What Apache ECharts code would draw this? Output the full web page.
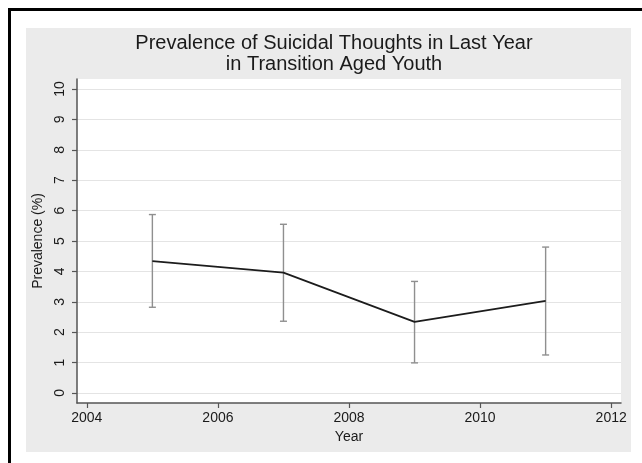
<!DOCTYPE html>
<html>
<head>
<meta charset="utf-8">
<script src="https://cdn.jsdelivr.net/npm/echarts@6/dist/echarts.min.js"></script>
<style>
  html, body { margin: 0; padding: 0; background: #fff; }
  #chart { width: 642px; height: 463px; }
</style>
</head>
<body>
<div id="chart"></div>
<script>
// Survey years and prevalence estimates (%) with 95% confidence limits
const years = [2005, 2007, 2009, 2011];
const prevalence = [4.34, 3.96, 2.34, 3.03];
const lowerCI = [2.82, 2.36, 0.99, 1.25];
const upperCI = [5.87, 5.55, 3.67, 4.80];

// Axis ticks
const xTicks = [2004, 2006, 2008, 2010, 2012];
const yTicks = [0, 1, 2, 3, 4, 5, 6, 7, 8, 9, 10];

const FONT = '"Liberation Sans", Arial, Helvetica, sans-serif';
const chart = echarts.init(document.getElementById('chart'), null, { renderer: 'canvas' });

const linePoints = years.map((y, i) => [y, prevalence[i]]);
const ciData = years.map((y, i) => [y, lowerCI[i], upperCI[i]]);

chart.setOption({
  animation: false,
  backgroundColor: '#ffffff',
  graphic: [
    { type: 'rect', z: -10, shape: { x: 26, y: 28, width: 605, height: 424 }, style: { fill: '#ebebeb' } },
    { type: 'rect', z: -5, shape: { x: 8, y: 8, width: 3, height: 455 }, style: { fill: '#000' } },
    { type: 'rect', z: -5, shape: { x: 8, y: 8, width: 634, height: 3 }, style: { fill: '#000' } }
  ],
  title: {
    text: 'Prevalence of Suicidal Thoughts in Last Year\nin Transition Aged Youth',
    left: 329,
    top: 28,
    textAlign: 'center',
    textStyle: { fontFamily: FONT, fontSize: 20, fontWeight: 'normal', color: '#1a1a1a', lineHeight: 21 }
  },
  grid: {
    left: 77, right: 21, top: 79, bottom: 60,
    show: true, backgroundColor: '#ffffff', borderWidth: 0
  },
  xAxis: {
    type: 'value',
    min: 2003.85,
    max: 2012.15,
    name: 'Year',
    nameLocation: 'middle',
    nameGap: 26,
    nameTextStyle: { fontFamily: FONT, fontSize: 14, color: '#1a1a1a' },
    axisLine: { show: true, onZero: false, lineStyle: { color: '#555', width: 1.5 } },
    axisTick: { show: true, length: 5, customValues: xTicks, lineStyle: { color: '#555', width: 1.2 } },
    axisLabel: {
      customValues: xTicks, margin: 8, fontFamily: FONT, fontSize: 14, color: '#1a1a1a',
      formatter: v => String(v)
    },
    splitLine: { show: false }
  },
  yAxis: {
    type: 'value',
    min: -0.33,
    max: 10.33,
    name: 'Prevalence (%)',
    nameLocation: 'middle',
    nameGap: 24,
    nameTextStyle: { fontFamily: FONT, fontSize: 14, color: '#1a1a1a' },
    axisLine: { show: true, onZero: false, lineStyle: { color: '#555', width: 1.5 } },
    axisTick: { show: true, length: 5, customValues: yTicks, lineStyle: { color: '#555', width: 1.2 } },
    axisLabel: {
      customValues: yTicks, rotate: 90, margin: 10, fontFamily: FONT, fontSize: 14, color: '#1a1a1a',
      formatter: v => String(v)
    },
    splitLine: { show: false }
  },
  series: [
    {
      // horizontal reference lines at each labelled prevalence value
      type: 'line',
      data: [],
      silent: true,
      z: 0,
      markLine: {
        silent: true,
        z: 0,
        symbol: 'none',
        label: { show: false },
        lineStyle: { color: '#e4e4e4', width: 1.2, type: 'solid' },
        data: yTicks.map(v => ({ yAxis: v }))
      }
    },
    {
      // confidence interval whiskers
      type: 'custom',
      data: ciData,
      z: 2,
      renderItem: function (params, api) {
        const x = api.value(0);
        const lo = api.coord([x, api.value(1)]);
        const hi = api.coord([x, api.value(2)]);
        const cap = 3.5;
        const style = { stroke: '#8f8f8f', lineWidth: 1.4 };
        return {
          type: 'group',
          children: [
            { type: 'line', shape: { x1: lo[0], y1: lo[1], x2: hi[0], y2: hi[1] }, style },
            { type: 'line', shape: { x1: lo[0] - cap, y1: lo[1], x2: lo[0] + cap, y2: lo[1] }, style },
            { type: 'line', shape: { x1: hi[0] - cap, y1: hi[1], x2: hi[0] + cap, y2: hi[1] }, style }
          ]
        };
      }
    },
    {
      type: 'line',
      data: linePoints,
      showSymbol: false,
      z: 3,
      lineStyle: { color: '#1c1c1c', width: 1.7 }
    }
  ]
});
</script>
</body>
</html>
